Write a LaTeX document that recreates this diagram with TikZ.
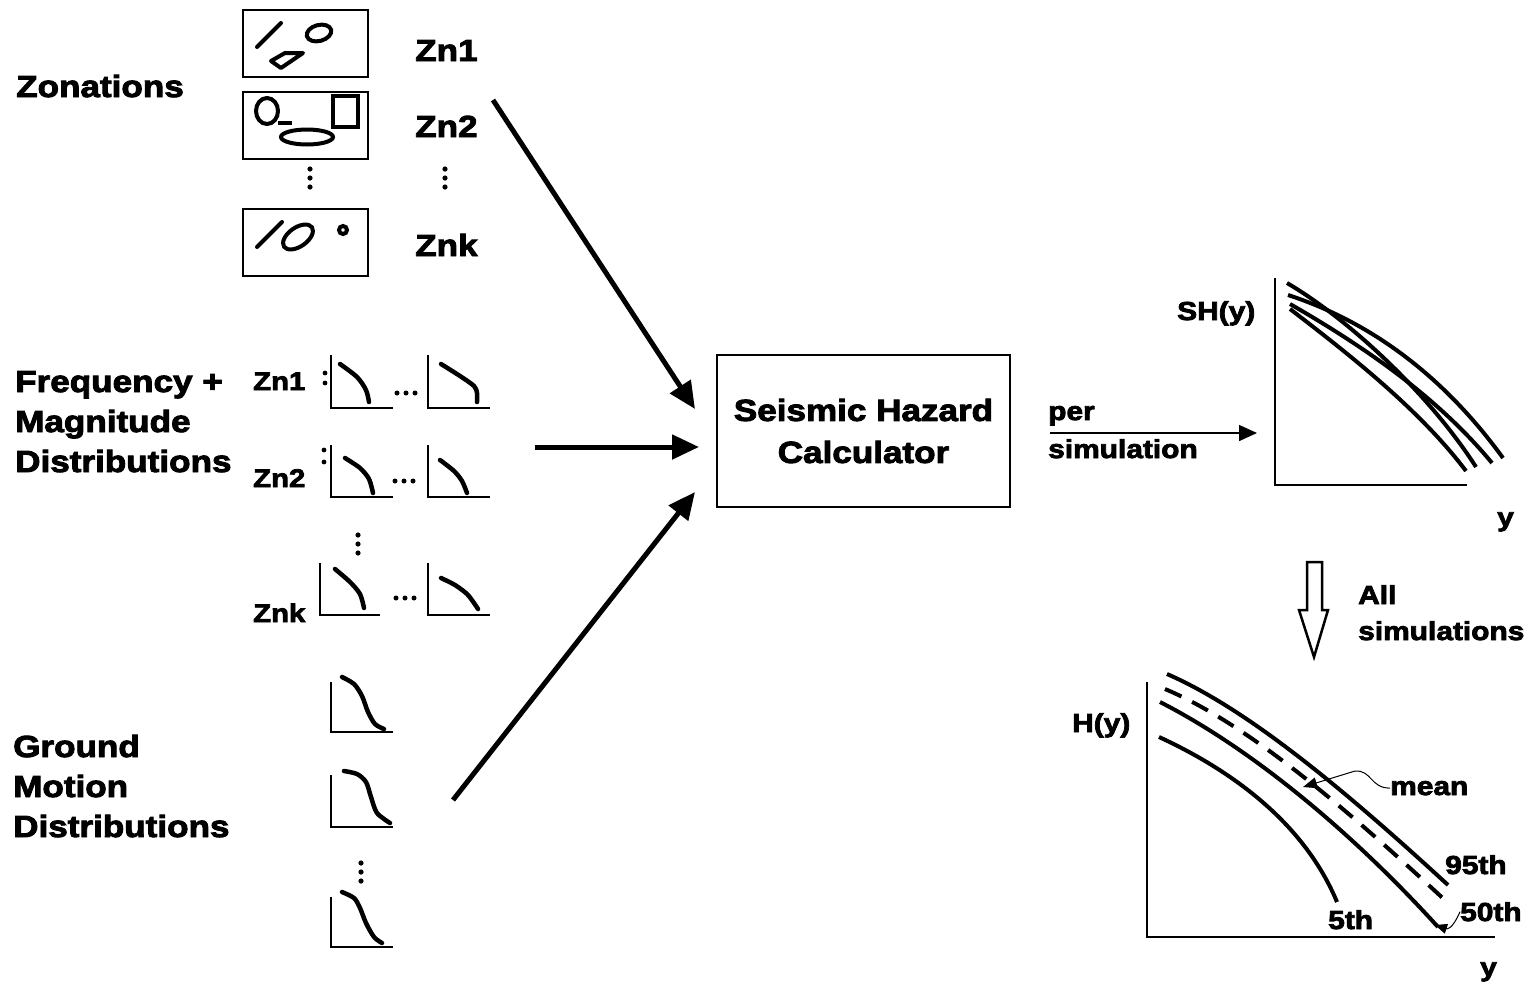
\documentclass[tikz,border=0pt]{standalone}
\usepackage{fontspec}
\setmainfont[FakeStretch=1.15,FakeBold=3]{Liberation Sans}
\usetikzlibrary{arrows.meta}
\begin{document}
\begin{tikzpicture}[x=1pt,y=-1pt,
 big/.style={font=\fontsize{30.5}{41}\selectfont\bfseries},
 mid/.style={font=\fontsize{25.5}{32}\selectfont\bfseries},
 small/.style={font=\fontsize{26}{36}\selectfont\bfseries},
 lbl/.style={inner sep=0pt, anchor=base west},
 zbox/.style={draw, line width=1.4pt, minimum width=125pt, minimum height=67pt, inner sep=0pt},
 shp/.style={line width=4pt},
 axis/.style={line width=1.3pt},
 crv/.style={line width=4.5pt, line cap=round},
 hcrv/.style={line width=4pt},
 bigarrow/.style={line width=5pt, -{Triangle[length=27pt,width=24pt]}},
]
\useasboundingbox (0,0) rectangle (1539,986);
\fill[white] (0,0) rectangle (1539,986);

% ---------- Zonations ----------
\node[lbl,big] (zon) at (16,97) {Zonations};
\node[zbox] (b1) at (305.5,43.5) {};
\node[zbox] (b2) at (305.5,125.5) {};
\node[zbox] (b3) at (305.5,242.5) {};
\node[lbl,big] (zn1) at (415,61) {Zn1};
\node[lbl,big] (zn2) at (415,137) {Zn2};
\node[lbl,big] (znk) at (415,256) {Znk};
% box 1 shapes
\draw[shp, line cap=round] (257,47) -- (281,23);
\draw[shp, rotate around={15:(319,33)}] (319,33) ellipse [x radius=12.5, y radius=8];
\draw[shp, line join=round] (271,61) -- (285,53) -- (303,53) -- (281,68) -- cycle;
% box 2 shapes
\draw[shp] (267,111) ellipse [x radius=11, y radius=13];
\draw[shp] (278,123) -- (292,123);
\draw[shp] (307,137) ellipse [x radius=26, y radius=7.5];
\draw[shp] (333,96) rectangle (358,127);
% box 3 shapes
\draw[shp, line cap=round] (257,247) -- (282,222);
\draw[shp, rotate around={35:(298,237)}] (298,237) ellipse [x radius=17, y radius=9.5];
\draw[shp] (343,230) circle[radius=4];
% dots
\foreach \yy in {169,178,187} {\fill (310,\yy) circle[radius=2.6]; \fill (445,\yy) circle[radius=2.6];}

% ---------- Frequency + Magnitude ----------
\node[lbl,big] (freq) at (15,392) {Frequency +};
\node[lbl,big] (mag) at (15,432) {Magnitude};
\node[lbl,big] (dist1) at (15,472) {Distributions};
\node[lbl,mid] (fz1) at (253,390) {Zn1};
\node[lbl,mid] (fz2) at (253,487) {Zn2};
\node[lbl,mid] (fzk) at (253,622) {Znk};
% row 1
\fill (325,373) circle[radius=2.4]; \fill (325,383) circle[radius=2.4];
\draw[axis] (331,355) -- (331,408) -- (393,408);
\draw[crv] plot[smooth] coordinates {(340,364) (357,377) (366,390) (369,402)};
\foreach \xx in {397,406,415} \fill (\xx,393) circle[radius=2.5];
\draw[axis] (428,355) -- (428,408) -- (490,408);
\draw[crv] plot[smooth] coordinates {(441,364) (460,376) (474,386) (477,393) (477,402)};
% row 2
\fill (324,450) circle[radius=2.4]; \fill (324,462) circle[radius=2.4];
\draw[axis] (331,445) -- (331,497) -- (393,497);
\draw[crv] plot[smooth] coordinates {(345,458) (360,468) (369,479) (373,493)};
\foreach \xx in {395,404,413} \fill (\xx,481) circle[radius=2.5];
\draw[axis] (428,445) -- (428,497) -- (490,497);
\draw[crv] plot[smooth] coordinates {(440,460) (454,471) (462,481) (467,493)};
\foreach \yy in {535,544,553} \fill (358,\yy) circle[radius=2.6];
% row 3
\draw[axis] (320,563) -- (320,615) -- (380,615);
\draw[crv] plot[smooth] coordinates {(335,569) (350,582) (360,594) (364,608)};
\foreach \xx in {396,405,414} \fill (\xx,598) circle[radius=2.5];
\draw[axis] (428,563) -- (428,615) -- (490,615);
\draw[crv] plot[smooth] coordinates {(441,578) (455,585) (467,594) (474,603) (478,609)};

% ---------- Ground motion ----------
\node[lbl,big] (gr) at (13,757) {Ground};
\node[lbl,big] (mo) at (13,797) {Motion};
\node[lbl,big] (dist2) at (13,837) {Distributions};
\draw[axis] (331,682) -- (331,732) -- (393,732);
\draw[crv] plot[smooth] coordinates {(342,677) (354,684) (362,696) (368,712) (375,724) (384,729)};
\draw[axis] (331,775) -- (331,827) -- (393,827);
\draw[crv] plot[smooth] coordinates {(344,771) (357,774) (366,782) (371,797) (377,813) (390,823)};
\foreach \yy in {863,872,881} \fill (361,\yy) circle[radius=2.6];
\draw[axis] (331,897) -- (331,947) -- (393,947);
\draw[crv] plot[smooth] coordinates {(342,892) (354,898) (360,908) (366,923) (374,937) (382,943)};

% ---------- Calculator ----------
\node[draw, line width=1.4pt, minimum width=293pt, minimum height=152pt, align=center,
      font=\fontsize{30.5}{42}\selectfont\bfseries] (calc) at (863.5,431) {Seismic Hazard\\Calculator};

\coordinate (a1s) at (493,100); \coordinate (a1e) at (695,409);
\coordinate (a2s) at (535,447); \coordinate (a2e) at (699,447);
\coordinate (a3s) at (453,800); \coordinate (a3e) at (695,492);
\draw[bigarrow] (a1s) -- (a1e);
\draw[bigarrow] (a2s) -- (a2e);
\draw[bigarrow] (a3s) -- (a3e);

% ---------- per simulation ----------
\node[lbl,small] (per) at (1048,420) {per};
\node[lbl,small] (sim) at (1048,458) {simulation};
\coordinate (ps) at (1050,433); \coordinate (pe) at (1257,433);
\draw[line width=1.5pt, -{Triangle[length=18pt,width=16pt]}] (ps) -- (pe);

% ---------- SH plot ----------
\node[lbl,small] (sh) at (1177,320) {SH(y)};
\draw[axis] (1275,278) -- (1275,485) -- (1467,485);
\node[lbl,small] (shy) at (1497,526) {y};
\draw[hcrv] (1287,283) .. controls (1350,320) and (1430,395) .. (1476,467);
\draw[hcrv] (1288,295) .. controls (1380,325) and (1450,385) .. (1503,458);
\draw[hcrv] (1290,304) .. controls (1370,350) and (1440,400) .. (1492,463);
\draw[hcrv] (1290,309) .. controls (1350,355) and (1420,410) .. (1466,471);

% ---------- hollow arrow ----------
\draw[line width=2.5pt, fill=white] (1307,562) -- (1322,562) -- (1322,610) -- (1328,610) -- (1314,657) -- (1299,610) -- (1307,610) -- cycle;
\node[lbl,small] (all) at (1358,604) {All};
\node[lbl,small] (alls) at (1358,640) {simulations};

% ---------- H plot ----------
\node[lbl,small] (hy) at (1072,732) {H(y)};
\draw[axis] (1147,682) -- (1147,937) -- (1495,937);
\node[lbl,small] (hyy) at (1480,976) {y};
\draw[hcrv] (1167,674) .. controls (1250,710) and (1350,795) .. (1448,885);
\draw[hcrv, dash pattern=on 18pt off 12pt] (1165,689) .. controls (1250,725) and (1350,812) .. (1448,903);
\draw[hcrv] (1160,702) .. controls (1250,748) and (1350,830) .. (1438,927);
\draw[hcrv] (1159,737) .. controls (1235,772) and (1305,825) .. (1337,902);
\node[lbl,small] (p95) at (1445,874) {95th};
\node[lbl,small] (p50) at (1460,921) {50th};
\node[lbl,small] (p5) at (1328,929) {5th};
\node[lbl,small] (mean) at (1390,795) {mean};
\coordinate (meantip) at (1303,787);
\coordinate (p50tip) at (1435,925);
\draw[line width=1pt, -{Triangle[length=14pt,width=11pt]}] (mean.west) .. controls (1370,788) and (1372,770) .. (1355,771) -- (meantip);
\draw[line width=1pt, -{Triangle[length=12pt,width=10pt]}] (p50.west) .. controls (1452,930) and (1447,929) .. (p50tip);
\end{tikzpicture}
\end{document}
